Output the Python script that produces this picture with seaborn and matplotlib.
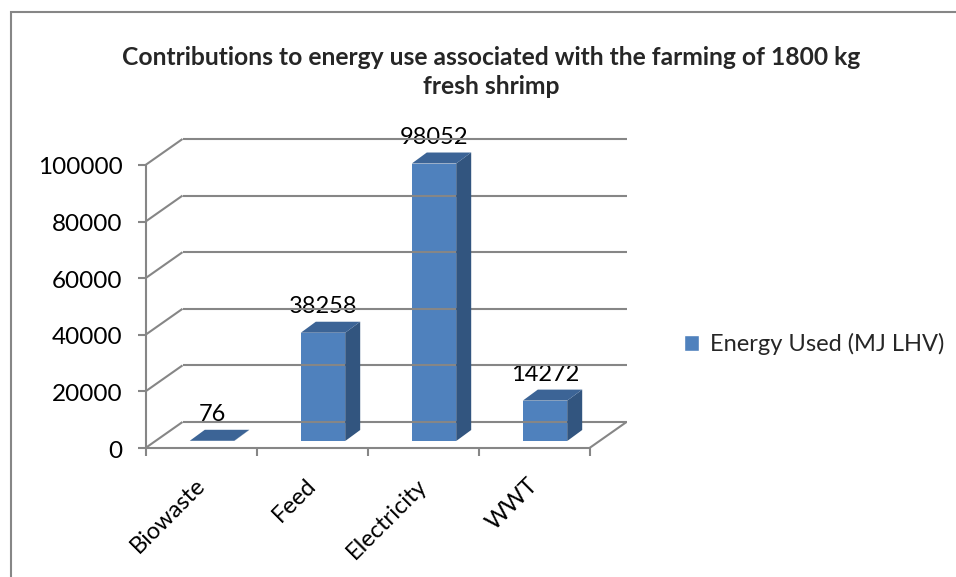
import matplotlib
matplotlib.use("Agg")
import matplotlib.pyplot as plt
from matplotlib import transforms
from matplotlib.patches import Polygon, Rectangle, Patch
from matplotlib.lines import Line2D
import pandas as pd
import seaborn as sns

categories = ["Biowaste", "Feed", "Electricity", "WWT"]
energy_used = [76, 38258, 98052, 14272]
y_ticks = [0, 20000, 40000, 60000, 80000, 100000]
series_name = "Energy Used (MJ LHV)"
title = "Contributions to energy use associated with the farming of 1800 kg\nfresh shrimp"

W, H, DPI = 956, 577, 100
FRONT_C = "#4F81BD"
TOP_C = "#3C6496"
SIDE_C = "#32557F"
GRID_C = "#868686"
FS = 17

# pixel offsets of the front plane, the back wall and the bar depth
FRONT = (-11, -7)
BACK = (26, 19)
DEPTH = (15, 11)

sns.set_style("white")
plt.rcParams["font.family"] = ["Lato", "DejaVu Sans"]

fig = plt.figure(figsize=(W / DPI, H / DPI), dpi=DPI)
ax = fig.add_axes([156.5 / W, (H - 441) / H, 444 / W, 283 / H])

df = pd.DataFrame({"Category": categories, "Energy": energy_used})
sns.barplot(data=df, x="Category", y="Energy", color=FRONT_C, saturation=1,
            width=0.4, linewidth=0, ax=ax, zorder=3)
ax.set_xlim(-0.5, 3.5)
ax.set_ylim(0, 100000)
ax.axis("off")


def shifted(dx, dy):
    return transforms.offset_copy(ax.transData, fig=fig, x=dx, y=dy, units="dots")


front = shifted(*FRONT)
back = shifted(*BACK)
ident = transforms.IdentityTransform()


def seg(p1, p2, **kw):
    ln = Line2D([p1[0], p2[0]], [p1[1], p2[1]], transform=ident, color=GRID_C,
                lw=1.5, clip_on=False, solid_capstyle="butt", **kw)
    fig.add_artist(ln)


xmin, xmax = -0.5, 3.5
# back wall gridlines and side-wall diagonals
for v in y_ticks:
    seg(back.transform((xmin, v)), back.transform((xmax, v)), zorder=1)
    seg(front.transform((xmin, v)), back.transform((xmin, v)), zorder=1)
    fx, fy = front.transform((xmin, v))
    seg((fx - 8, fy), (fx, fy), zorder=1)
    ax.text(xmin, v, f"{v}", transform=shifted(FRONT[0] - 23, FRONT[1] - 3),
            ha="right", va="center", fontsize=FS + 0.5, color="#000000")

# floor: front edge, right diagonal, front axis
seg(front.transform((xmin, 0)), front.transform((xmax, 0)), zorder=1)
seg(front.transform((xmax, 0)), back.transform((xmax, 0)), zorder=1)
seg(front.transform((xmin, 0)), front.transform((xmin, y_ticks[-1])), zorder=1)
for i in range(len(categories) + 1):
    fx, fy = front.transform((i - 0.5, 0))
    seg((fx, fy), (fx, fy - 8), zorder=1)

# side and top faces of each bar
for p, v in zip(ax.patches, energy_used):
    x0 = p.get_x()
    x1 = x0 + p.get_width()
    h = p.get_height()
    a = ax.transData.transform((x0, h))
    b = ax.transData.transform((x1, h))
    c = ax.transData.transform((x1, 0))
    dx, dy = DEPTH
    top = [a, b, (b[0] + dx, b[1] + dy), (a[0] + dx, a[1] + dy)]
    side = [c, b, (b[0] + dx, b[1] + dy), (c[0] + dx, c[1] + dy)]
    fig.add_artist(Polygon(side, closed=True, transform=ident, facecolor=SIDE_C,
                           edgecolor="none", zorder=4))
    fig.add_artist(Polygon(top, closed=True, transform=ident, facecolor=TOP_C,
                           edgecolor="none", zorder=4))
    ax.annotate(f"{v}", (x0 + p.get_width() / 2, h), xytext=(0, 26),
                textcoords="offset pixels", ha="center", va="center",
                fontsize=FS, color="#000000", annotation_clip=False, zorder=5)

# category labels
for i, cat in enumerate(categories):
    ax.text(i, 0, cat, transform=shifted(FRONT[0] + 1, FRONT[1] - 34),
            rotation=45, rotation_mode="anchor", ha="right", va="center",
            fontsize=FS, color="#000000")

fig.text(491 / W, 1 - 72 / H, title, ha="center", va="center",
         fontweight="bold", fontsize=17.7, linespacing=1.3)

fig.legend(handles=[Patch(facecolor=FRONT_C)], labels=[series_name],
           loc="center left", bbox_to_anchor=(684 / W, 1 - 344 / H),
           frameon=False, fontsize=FS, handlelength=0.65, handleheight=0.65,
           handletextpad=0.45, borderpad=0, borderaxespad=0)

# chart area border (top and left edges visible)
fig.add_artist(Rectangle((11 / W, -0.2), 1.5, 1.2 - 11.5 / H,
                         transform=fig.transFigure, fill=False,
                         edgecolor=GRID_C, lw=1.5, clip_on=False))

fig.savefig("out.png", dpi=DPI)
